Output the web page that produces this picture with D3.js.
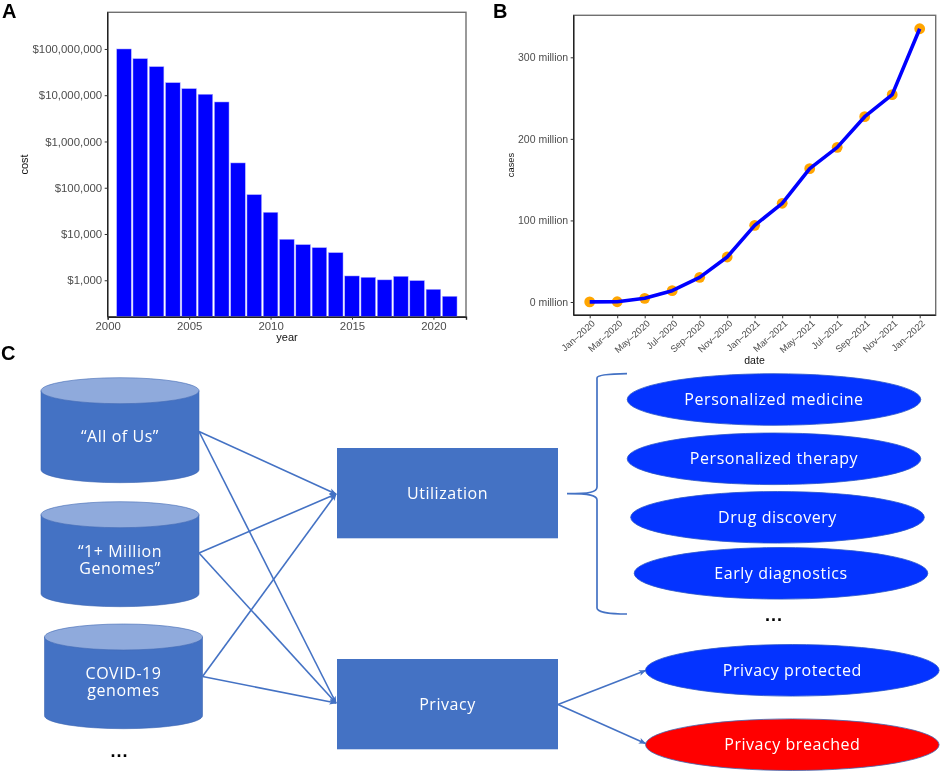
<!DOCTYPE html>
<html><head><meta charset="utf-8">
<script src="https://cdn.jsdelivr.net/npm/d3@7"></script>
<style>
html,body{margin:0;padding:0;background:#fff}
svg{display:block;filter:blur(0.35px)}
.gg text{font-family:"Liberation Sans",Arial,sans-serif}
.box text{font-family:"Open Sans",sans-serif;fill:#fff;text-anchor:middle;font-size:16px;letter-spacing:0.55px}
.panel{font-family:"Liberation Sans",Arial,sans-serif;font-weight:700;font-size:20px;fill:#000}
</style></head><body>
<svg id="fig" width="941" height="772"></svg>
<script>
// Panel A
const costYears=[2001,2002,2003,2004,2005,2006,2007,2008,2009,2010,2011,2012,2013,2014,2015,2016,2017,2018,2019,2020,2021];
const costValues=[1e8,6.18e7,4.15e7,1.87e7,1.39e7,1.05e7,7.15e6,3.44e5,7.1e4,2.95e4,7700,5900,5080,3960,1240,1160,1020,1220,984,638,451];
const costTicks=[1e3,1e4,1e5,1e6,1e7,1e8];
const yearTicks=[2000,2005,2010,2015,2020];
// Panel B
const caseDates=["Jan–2020","Mar–2020","May–2020","Jul–2020","Sep–2020","Nov–2020","Jan–2021","Mar–2021","May–2021","Jul–2021","Sep–2021","Nov–2021","Jan–2022"];
const caseValues=[0.1,0.3,4.5,13.9,30.2,55.2,94,121,163.5,189.6,227.2,254.2,335];
const caseTicks=[0,100,200,300];
// Panel C
const sources=[["“All of Us”"],["“1+ Million","Genomes”"],["COVID-19","genomes"]];
const stages=["Utilization","Privacy"];
const outcomes=["Personalized medicine","Personalized therapy","Drug discovery","Early diagnostics","Privacy protected","Privacy breached"];

const svg=d3.select("#fig");
const GREY="#4d4d4d",BLUE="#0000ff";

function frame(g,x0,x1,y0,y1){
  g.append("rect").attr("x",x0).attr("y",y1).attr("width",x1-x0).attr("height",y0-y1)
   .attr("fill","none").attr("stroke","#707070").attr("stroke-width",1.4);
}
function styleAxis(a,size){
  a.select(".domain").attr("stroke","#222").attr("stroke-width",1.4);
  a.selectAll(".tick line").attr("stroke","#333");
  a.selectAll("text").attr("fill",GREY).style("font-size",size+"px");
}
// ---- A
{
  const g=svg.append("g").attr("class","gg");
  const L=107.7,R=466,T=12.3,B=316.7;
  const x=d3.scaleLinear().domain([2000,2022]).range([L,R]);
  const y=d3.scaleLog().domain([163,6.2e8]).range([B,T]);
  frame(g,L,R,B,T);
  g.selectAll("rect.bar").data(costYears).join("rect").attr("class","bar")
    .attr("x",d=>x(d-0.45)).attr("width",d=>x(d+0.45)-x(d-0.45))
    .attr("y",(d,i)=>y(costValues[i])).attr("height",(d,i)=>B-y(costValues[i]))
    .attr("fill",BLUE).attr("stroke","#b9b9ff").attr("stroke-width",0.5);
  const ax=g.append("g").attr("transform",`translate(0,${B})`)
    .call(d3.axisBottom(x).tickValues(yearTicks).tickFormat(d3.format("d")).tickSize(3).tickPadding(2));
  styleAxis(ax,11.4);
  const ay=g.append("g").attr("transform",`translate(${L},0)`)
    .call(d3.axisLeft(y).tickValues(costTicks).tickFormat(d=>"$"+d3.format(",")(d)).tickSize(3).tickPadding(2.5));
  ay.select(".domain").attr("d",`M0,${B}V${T}`);
  styleAxis(ay,11.4);
  g.append("text").attr("x",287).attr("y",341).attr("text-anchor","middle").style("font-size","11px").attr("fill","#111").text("year");
  g.append("text").attr("transform","translate(27.7,164.5) rotate(-90)").attr("text-anchor","middle").style("font-size","11px").attr("fill","#111").text("cost");
}
// ---- B
{
  const g=svg.append("g").attr("class","gg");
  const L=573.7,R=935.7,T=15.3,B=315.3;
  const x=d3.scalePoint().domain(caseDates).range([589.7,919.7]);
  const y=d3.scaleLinear().domain([0,300]).range([302,57.3]);
  frame(g,L,R,B,T);
  const pts=caseDates.map((d,i)=>[x(d),y(caseValues[i])]);
  g.selectAll("circle").data(pts).join("circle").attr("cx",d=>d[0]).attr("cy",d=>d[1]).attr("r",5.4).attr("fill","#ffa500");
  g.append("path").attr("d",d3.line()(pts)).attr("fill","none").attr("stroke",BLUE).attr("stroke-width",3.6).attr("stroke-linejoin","round");
  const ax=g.append("g").attr("transform",`translate(0,${B})`)
    .call(d3.axisBottom(x).tickSize(3).tickPadding(2));
  ax.select(".domain").attr("d",`M${L},0H${R}`);
  styleAxis(ax,9.4);
  ax.selectAll("text").attr("text-anchor","end").attr("dy",0).attr("y",0)
    .attr("transform","translate(5.5,9) rotate(-42)");
  const ay=g.append("g").attr("transform",`translate(${L},0)`)
    .call(d3.axisLeft(y).tickValues(caseTicks).tickFormat(d=>d+" million").tickSize(3).tickPadding(2.5));
  ay.select(".domain").attr("d",`M0,${B}V${T}`);
  styleAxis(ay,10.5);
  g.append("text").attr("x",754.5).attr("y",364).attr("text-anchor","middle").style("font-size","10.5px").attr("fill","#111").text("date");
  g.append("text").attr("transform","translate(514,165) rotate(-90)").attr("text-anchor","middle").style("font-size","9.3px").attr("fill","#111").text("cases");
}
// ---- C
{
  const g=svg.append("g").attr("class","box");
  const MID="#4472c4",LIGHT="#8faadc",ROYAL="#0433ff";
  const cylLayout=[{x:41,w:158,t:377.7,b:482.7},{x:41,w:158,t:501.7,b:606.7},{x:44.5,w:158,t:624,b:728.7}];
  const linkLayout=[
    [[199,431.5],[336,494]],[[199,431.5],[336,703]],
    [[199,553],[336,494]],[[199,553],[336,703]],
    [[202.5,676.5],[336,494]],[[202.5,676.5],[336,703]],
    [[558,704.5],[645.5,670.5]],[[558,704.5],[645.5,743.5]]];
  const defs=svg.append("defs");
  defs.append("marker").attr("id","ah").attr("viewBox","0 0 10 10").attr("refX",9).attr("refY",5)
    .attr("markerWidth",5).attr("markerHeight",4.6).attr("orient","auto")
    .append("path").attr("d","M0,1L10,5L0,9L2.5,5Z").attr("fill",MID);
  cylLayout.forEach((c,i)=>{
    const rx=c.w/2,ry=13,cx=c.x+rx;
    g.append("path").attr("d",`M${c.x},${c.t+ry}V${c.b-ry}A${rx},${ry} 0 0 0 ${c.x+c.w},${c.b-ry}V${c.t+ry}Z`)
      .attr("fill",MID).attr("stroke","#3f68b3").attr("stroke-width",0.6);
    g.append("ellipse").attr("cx",cx).attr("cy",c.t+ry).attr("rx",rx).attr("ry",ry)
      .attr("fill",LIGHT).attr("stroke","#3f68b3").attr("stroke-width",0.6);
    const lines=sources[i];
    const mid=(c.t+c.b)/2+(lines.length==1?7:6);
    const label=g.append("text").attr("x",cx).attr("y",mid+(-(lines.length-1)/2)*16.6+5);
    lines.forEach((s,j)=>{
      label.append("tspan").attr("x",cx).attr("dy",j?16.6:0).text(s);
    });
  });
  g.selectAll("line.link").data(linkLayout).join("line").attr("class","link")
    .attr("x1",d=>d[0][0]).attr("y1",d=>d[0][1]).attr("x2",d=>d[1][0]).attr("y2",d=>d[1][1])
    .attr("stroke",MID).attr("stroke-width",1.6).attr("marker-end","url(#ah)");
  const stageTop=[448,659];
  stages.forEach((s,i)=>{
    g.append("rect").attr("x",337).attr("y",stageTop[i]).attr("width",221).attr("height",90.3).attr("fill",MID);
    g.append("text").attr("x",447.5).attr("y",stageTop[i]+50.5).text(s);
  });
  g.append("path").attr("fill","none").attr("stroke",MID).attr("stroke-width",1.7)
    .attr("d","M627,373.7C610,374 597,375 597,378V487C597,492 590,493.7 567,493.7C590,493.7 597,495.5 597,500V608C597,612 610,614 627,614");
  const ellLayout=[[774,399.5],[774,458.8],[777.5,517.3],[781,573.3],[792.3,670.3],[792.3,744.7]];
  outcomes.forEach((s,i)=>{
    const e=ellLayout[i];
    g.append("ellipse").attr("cx",e[0]).attr("cy",e[1]).attr("rx",146.8).attr("ry",25.8)
      .attr("fill",i==5?"#ff0000":ROYAL).attr("stroke",i==5?"#3f68b3":"#2a55c8").attr("stroke-width",0.8);
    g.append("text").attr("x",e[0]).attr("y",e[1]+5.5).text(s);
  });
  [[119.5,757],[774,620.5]].forEach(p=>{
    svg.append("text").attr("x",p[0]).attr("y",p[1]).attr("text-anchor","middle")
      .style("font-family","'Liberation Sans'").style("font-weight",700).style("font-size","18px").style("letter-spacing","1px").attr("fill","#000").text("...");
  });
}
[["A",2,18.2],["B",493,18.2],["C",1,360]].forEach(p=>{
  svg.append("text").attr("class","panel").attr("x",p[1]).attr("y",p[2]).text(p[0]);
});
</script>
</body></html>
